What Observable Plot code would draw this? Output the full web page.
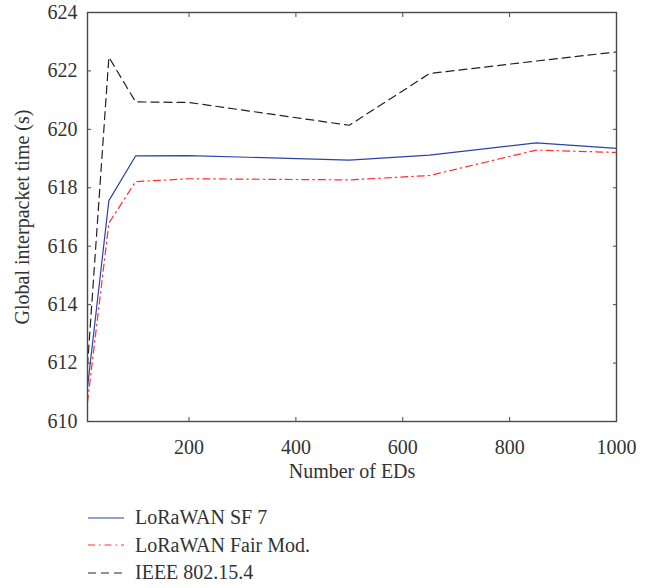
<!DOCTYPE html>
<html><head><meta charset="utf-8">
<script src="https://cdn.jsdelivr.net/npm/d3@7"></script>
<script src="https://cdn.jsdelivr.net/npm/@observablehq/plot@0.6"></script>
<style>
body{margin:0;background:#fff;font-family:"Liberation Serif",serif;}
#wrap{position:relative;width:656px;height:588px;}
#legend{position:absolute;left:88px;top:504px;font-size:20px;color:#333}
.row{display:flex;align-items:center;height:27.5px}
.row svg{width:36px;height:10px;margin-right:11px}
</style></head><body><div id="wrap"><div id="chart"></div><div id="legend"></div></div>
<script>
// Number of end devices
const numEDs = [10, 50, 100, 200, 500, 650, 850, 1000];
// Global interpacket time (s)
const loraSF7  = [611.17, 617.56, 619.09, 619.10, 618.95, 619.12, 619.54, 619.35];
const loraFair = [610.66, 616.79, 618.21, 618.31, 618.27, 618.42, 619.29, 619.21];
const ieee     = [611.90, 622.47, 620.94, 620.92, 620.14, 621.91, 622.34, 622.65];
const seriesNames = ["LoRaWAN SF 7", "LoRaWAN Fair Mod.", "IEEE 802.15.4"];
const xTicks = [200, 400, 600, 800, 1000];
const yTicks = [610, 612, 614, 616, 618, 620, 622, 624];

const styles = [
  {stroke: "#2c43a6", dash: null},
  {stroke: "#ff3030", dash: "7,4,1.5,4"},
  {stroke: "#222222", dash: "8,5"}
];
const values = [loraSF7, loraFair, ieee];
const tables = values.map((vals, i) => numEDs.map((x, j) => ({x, y: vals[j], s: seriesNames[i]})));

const lineMarks = tables.map((t, i) => Plot.line(t, {
  x: "x", y: "y", stroke: styles[i].stroke, strokeWidth: 1.2,
  strokeDasharray: styles[i].dash ?? undefined
}));

const chart = Plot.plot({
  width: 656, height: 490,
  marginLeft: 87, marginRight: 40, marginTop: 12, marginBottom: 69,
  style: {fontFamily: "'Liberation Serif', serif", fontSize: "20px", color: "#333", background: "#fff"},
  x: {domain: [10, 1000]},
  y: {domain: [610, 624]},
  marks: [
    ...lineMarks,
    Plot.frame({stroke: "#4a4a4a", strokeWidth: 1.4}),
    Plot.axisX({ticks: xTicks, tickSize: -4, tickPadding: 22, tickFormat: d3.format("d"), fontSize: 20, label: "Number of EDs", labelAnchor: "center", labelOffset: 56, labelArrow: "none", stroke: "#4a4a4a"}),
    Plot.axisX({anchor: "top", ticks: xTicks, tickSize: -4, tickFormat: () => "", label: null, stroke: "#4a4a4a"}),
    Plot.axisY({ticks: yTicks, tickSize: -4, tickPadding: 14, fontSize: 20, label: "Global interpacket time (s)", labelAnchor: "center", labelOffset: 73, labelArrow: "none", stroke: "#4a4a4a"}),
    Plot.axisY({anchor: "right", ticks: yTicks, tickSize: -4, tickFormat: () => "", label: null, stroke: "#4a4a4a"})
  ]
});
document.getElementById("chart").appendChild(chart);

const legend = d3.select("#legend");
seriesNames.forEach((name, i) => {
  const row = legend.append("div").attr("class", "row");
  const svg = row.append("svg").attr("viewBox", "0 0 36 10");
  svg.append("line").attr("x1", 0).attr("x2", 36).attr("y1", 5).attr("y2", 5)
    .attr("stroke", styles[i].stroke).attr("stroke-width", 1.2)
    .attr("stroke-dasharray", styles[i].dash);
  row.append("span").text(name);
});
</script></body></html>
